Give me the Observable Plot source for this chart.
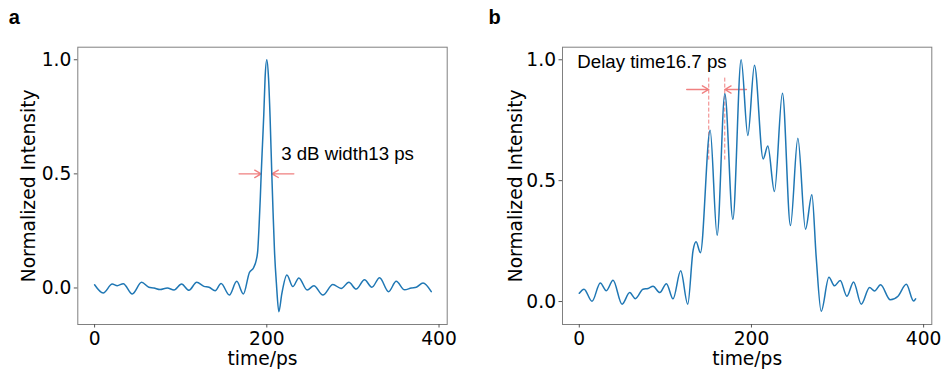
<!DOCTYPE html>
<html>
<head>
<meta charset="utf-8">
<script src="https://cdn.jsdelivr.net/npm/d3@7"></script>
<script src="https://cdn.jsdelivr.net/npm/@observablehq/plot@0.6"></script>
<style>
  html, body { margin: 0; padding: 0; background: #fff; }
  #wrap { display: flex; width: 944px; height: 371px; overflow: hidden; }
  #wrap svg { display: block; overflow: visible; }
</style>
</head>
<body>
<div id="wrap"></div>
<script>
// ---- data ----
const timeA = [0, 10, 20.5, 26.3, 33.3, 43.8, 54.6, 63, 68.9, 76, 84.5, 92.2, 101, 109.6, 118.6, 127, 132.9, 140, 146.9, 156.5,
  165.1, 172.8, 179.8, 184.8, 187.6, 189.5, 191, 192.5, 193.5, 195, 196.5, 198, 200, 202, 203.8, 205.8, 207.3, 208.9, 211.2, 214,
  217.4, 223.3, 230.2, 237.2, 246.9, 254.7, 265.1, 276.7, 286.4, 295.3, 303.8, 313.5, 322, 331, 341.4, 350.3, 360, 367.8, 373.6, 381.4, 391];
const intensityA = [0.014, -0.022, 0.017, 0.010, 0.019, -0.026, 0.025, 0.003, 0.000, -0.007, 0.000, -0.009, 0.017, -0.010, 0.025, 0.007, 0.003, -0.012, 0.020, -0.031,
  0.029, -0.026, 0.068, 0.090, 0.120, 0.165, 0.270, 0.400, 0.500, 0.630, 0.760, 0.920, 1.000, 0.920, 0.750, 0.500, 0.330, 0.165, 0.017, -0.104,
  -0.026, 0.057, 0.006, 0.044, -0.009, 0.010, -0.031, 0.015, -0.002, 0.025, -0.005, 0.036, 0.003, 0.045, -0.016, 0.029, -0.008, 0.000, 0.003, 0.022, -0.016];

const timeB = [0, 5.5, 14.8, 24.4, 31.4, 39.2, 49.7, 58.6, 65.1, 74, 79.9, 85.7, 93.5, 101.2, 108.9, 117.8, 126, 132.2, 135.7, 140.7,
  152, 160.1, 169.1, 178.4, 188, 195.8, 203.5, 213.6, 219, 226.7, 236, 245.3, 253.9, 262.8, 270.2, 275.2, 281, 290, 296.5, 303.1,
  310.9, 318.6, 327.6, 337.2, 343, 350, 361.3, 370.2, 379.9, 388.4, 390.7];
const intensityB = [0.034, 0.051, 0.001, 0.077, 0.045, 0.088, -0.011, 0.037, 0.012, 0.051, 0.054, 0.063, 0.037, 0.074, 0.011, 0.127, -0.011, 0.212, 0.247, 0.202,
  0.708, 0.274, 0.859, 0.340, 1.000, 0.687, 0.977, 0.590, 0.643, 0.455, 0.862, 0.314, 0.675, 0.299, 0.442, 0.184, -0.040, 0.100, 0.065, 0.087,
  0.022, 0.081, -0.011, 0.058, 0.044, 0.069, 0.007, 0.022, 0.071, 0.002, 0.011];

const xTicks = [0, 200, 400];
const yTicks = [0, 0.5, 1.0];
const xLabel = "time/ps";
const yLabel = "Normalized Intensity";
const panelLetters = ["a", "b"];
const noteA = "3 dB width13 ps";
const noteB = "Delay time16.7 ps";

// ---- drawing ----
const BLUE = "#1f77b4";
const CORAL = "#f08080";
const FS = 18.67;
const ARIAL = "'Liberation Sans', Arial, sans-serif";

function panel(opts) {
  const data = opts.t.map((t, i) => ({t, v: opts.v[i]}));
  return Plot.plot({
    width: 472,
    height: 371,
    marginLeft: opts.ml,
    marginRight: opts.mr,
    marginTop: 46.7,
    marginBottom: 47,
    x: {domain: [-19.5, 409.5]},
    y: {domain: opts.yDomain},
    style: {fontFamily: "'DejaVu Sans', sans-serif", fontSize: FS + "px", background: "white", overflow: "visible", color: "black"},
    marks: [
      ...opts.extra,
      Plot.line(data, {x: "t", y: "v", stroke: BLUE, strokeWidth: 1.5, curve: "monotone-x"}),
      Plot.frame({stroke: "#808080", strokeWidth: 1}),
      Plot.axisX({ticks: xTicks, tickSize: 3.5, tickPadding: 4, label: null, stroke: "#555", fill: "black", fontSize: FS}),
      Plot.axisY({ticks: yTicks, tickFormat: ".1f", tickSize: 3.5, tickPadding: 3, label: null, stroke: "#555", fill: "black", fontSize: FS}),
      Plot.text([yLabel], {frameAnchor: "left", rotate: -90, dx: opts.ylDx, text: d => d, textAnchor: "middle", lineAnchor: "bottom", fontSize: FS, fill: "black"}),
      Plot.text([xLabel], {frameAnchor: "bottom", dy: 40.4, text: d => d, textAnchor: "middle", lineAnchor: "bottom", fontSize: FS, fill: "black"}),
      Plot.text([opts.letter], {frameAnchor: "top-left", dx: opts.letterX - opts.ml, dy: 23.3 - 46.7, text: d => d, textAnchor: "start", lineAnchor: "bottom", fontFamily: ARIAL, fontWeight: "bold", fontSize: 20, fill: "black"})
    ]
  });
}

const arrowStyle = {x1: "x1", y1: "y1", x2: "x2", y2: "y2", stroke: CORAL, strokeWidth: 1.4, headLength: 8, headAngle: 60};

const chartA = panel({
  t: timeA, v: intensityA, letter: panelLetters[0], letterX: 8.3,
  ml: 77.3, mr: 25.3, yDomain: [-0.16, 1.055], ylDx: 34.3 - 77.3,
  extra: [
    Plot.arrow([{x1: 167.8, y1: 0.5, x2: 193.4, y2: 0.5}, {x1: 231.4, y1: 0.5, x2: 206.0, y2: 0.5}], arrowStyle),
    Plot.text([noteA], {x: 216.7, y: 0.561, text: d => d, textAnchor: "start", lineAnchor: "bottom", fontFamily: ARIAL, fontSize: FS, fill: "black"})
  ]
});

const chartB = panel({
  t: timeB, v: intensityB, letter: panelLetters[1], letterX: 16,
  ml: 90, mr: 12.7, yDomain: [-0.095, 1.052], ylDx: 49.3 - 90,
  extra: [
    Plot.ruleX([150.4, 169], {x: d => d, y1: 0.585, y2: 0.93, stroke: CORAL, strokeWidth: 1, strokeDasharray: "4,2"}),
    Plot.arrow([{x1: 124.8, y1: 0.877, x2: 150.4, y2: 0.877}, {x1: 194.2, y1: 0.877, x2: 169, y2: 0.877}], arrowStyle),
    Plot.text([noteB], {x: -2.3, y: 0.965, text: d => d, textAnchor: "start", lineAnchor: "bottom", fontFamily: ARIAL, fontSize: FS, fill: "black"})
  ]
});

const wrap = document.getElementById("wrap");
wrap.appendChild(chartA);
wrap.appendChild(chartB);
</script>
</body>
</html>
